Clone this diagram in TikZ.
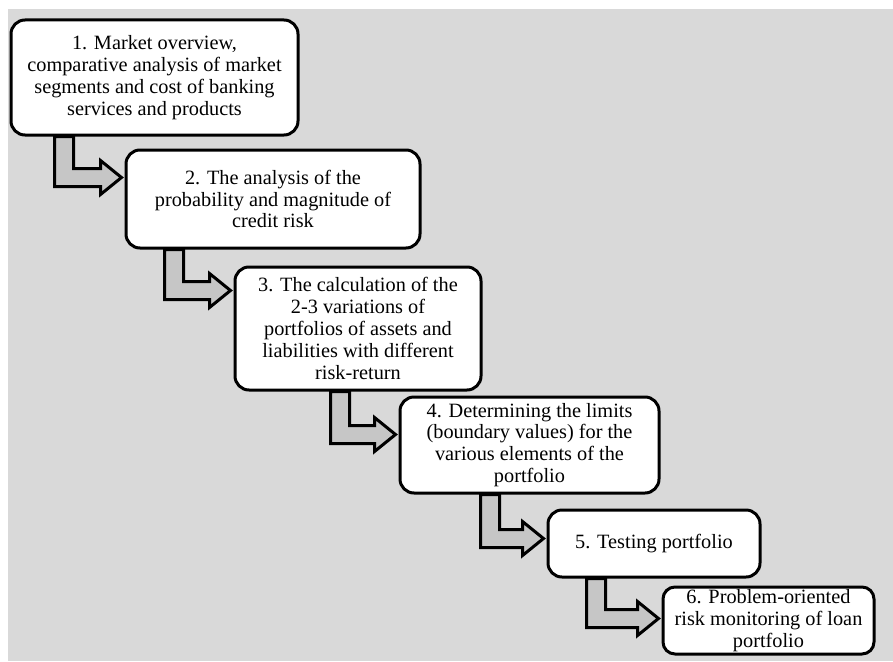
\documentclass[tikz,border=0pt]{standalone}
\usepackage{fontspec}
\setmainfont{Liberation Serif}
\usetikzlibrary{calc}
\definecolor{bggray}{HTML}{D9D9D9}
\definecolor{arrgray}{HTML}{C6C6C6}
\tikzset{
  box/.style={draw=black, line width=3pt, fill=white, rounded corners=14pt, inner sep=0pt,
    align=center, font=\fontsize{20.3}{21.8}\selectfont},
  arrowshape/.style={draw=black, line width=3pt, fill=arrgray, line join=miter},
}
% #1 from node, #2 to node, #3 stem offset from #1 south west, #4 tip offset below #2 north west
\newcommand\bentarrow[4]{%
  \path[arrowshape] let \p1=(#1.south west), \p2=(#2.north west) in
    (\x1+#3pt, \y1) -- (\x1+#3pt+19pt, \y1) -- (\x1+#3pt+19pt, \y2-#4pt+9pt)
    -- (\x2-24pt, \y2-#4pt+9pt) -- (\x2-24pt, \y2-#4pt+17pt) -- (\x2-3pt, \y2-#4pt)
    -- (\x2-24pt, \y2-#4pt-17pt) -- (\x2-24pt, \y2-#4pt-9pt) -- (\x1+#3pt, \y2-#4pt-9pt) -- cycle;
}
\begin{document}
\begin{tikzpicture}[x=1pt,y=-1pt]
\useasboundingbox (0,0) rectangle (893,661);
\fill[bggray] (8,9) rectangle (893,661);
\node[box, minimum width=287pt, minimum height=115pt] (n1) at (154.5,77.5)
  {1. Market overview,\\comparative analysis of market\\segments and cost of banking\\services and products};
\node[box, minimum width=294pt, minimum height=98pt] (n2) at (273,199)
  {2. The analysis of the\\probability and magnitude of\\credit risk};
\node[box, minimum width=246pt, minimum height=123pt] (n3) at (358,328.5)
  {3. The calculation of the\\2-3 variations of\\portfolios of assets and\\liabilities with different\\risk-return};
\node[box, minimum width=259pt, minimum height=96pt] (n4) at (529.5,445)
  {4. Determining the limits\\(boundary values) for the\\various elements of the\\portfolio};
\node[box, minimum width=212pt, minimum height=67pt] (n5) at (654,543.5)
  {5. Testing portfolio};
\node[box, minimum width=211pt, minimum height=67pt, rounded corners=12pt] (n6) at (768.5,620.5)
  {6. Problem-oriented\\risk monitoring of loan\\portfolio};
\bentarrow{n1}{n2}{45}{29}
\bentarrow{n2}{n3}{40}{25}
\bentarrow{n3}{n4}{97}{39}
\bentarrow{n4}{n5}{82}{30}
\bentarrow{n5}{n6}{40}{33}
\end{tikzpicture}
\end{document}
